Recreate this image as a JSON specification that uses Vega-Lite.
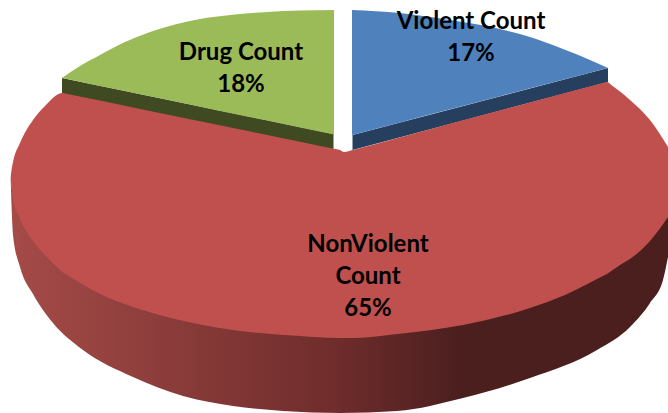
{"$schema":"https://vega.github.io/schema/vega-lite/v6.json","autosize":{"type":"fit","contains":"padding"},"padding":0,"width":668,"height":413,"background":"white","view":{"stroke":null},"config":{"axis":{"disable":true}},
"encoding":{"x":{"field":"x","type":"quantitative","scale":{"domain":[0,668],"nice":false,"zero":false},"axis":null},"y":{"field":"y","type":"quantitative","scale":{"domain":[413,0],"nice":false,"zero":false},"axis":null}},
"layer":[
{"data":{"values":[{"x":62,"y":78,"y2":94},{"x":333.5,"y":134,"y2":150}]},"mark":{"type":"area","fill":"#404a22"},"encoding":{"y2":{"field":"y2"}}},
{"data":{"values":[{"x":62,"y":78,"y2":78},{"x":80,"y":66,"y2":81.7},{"x":100,"y":55,"y2":86},{"x":125,"y":42,"y2":91},{"x":150,"y":32,"y2":96.3},{"x":175,"y":24.5,"y2":101.5},{"x":200,"y":19,"y2":106.7},{"x":235,"y":14.5,"y2":114},{"x":267,"y":12,"y2":120.6},{"x":300,"y":10.5,"y2":127.5},{"x":334,"y":10,"y2":134.5}]},"mark":{"type":"area","interpolate":"monotone","fill":"#9bbb59"},"encoding":{"y2":{"field":"y2"}}},
{"data":{"values":[{"x":352.5,"y":135,"y2":150},{"x":608,"y":68,"y2":82}]},"mark":{"type":"area","fill":"#263f5f"},"encoding":{"y2":{"field":"y2"}}},
{"data":{"values":[{"x":352,"y":10,"y2":135},{"x":400,"y":13,"y2":122.4},{"x":450,"y":20,"y2":109.3},{"x":500,"y":29,"y2":96.2},{"x":530,"y":37,"y2":88.3},{"x":563,"y":49,"y2":79.8},{"x":590,"y":60,"y2":72.7},{"x":608,"y":68,"y2":68}]},"mark":{"type":"area","interpolate":"monotone","fill":"#4f81bd"},"encoding":{"y2":{"field":"y2"}}},
{"data":{"values":[{"x":10.7,"y":177,"y2":180},{"x":11.5,"y":185,"y2":205},{"x":13,"y":193,"y2":235},{"x":20,"y":213,"y2":267},{"x":33,"y":235,"y2":294},{"x":53,"y":257,"y2":323},{"x":83,"y":279,"y2":350},{"x":133,"y":301,"y2":377},{"x":183,"y":315,"y2":396},{"x":233,"y":324,"y2":406},{"x":283,"y":329,"y2":411},{"x":340,"y":332,"y2":413},{"x":397,"y":328,"y2":411},{"x":463,"y":319,"y2":398},{"x":530,"y":302,"y2":378},{"x":597,"y":274,"y2":350},{"x":630,"y":254,"y2":327},{"x":650,"y":235,"y2":303},{"x":663,"y":219,"y2":280},{"x":668,"y":211,"y2":257}]},"mark":{"type":"area","interpolate":"monotone","fill":{"gradient":"linear","x1":0,"y1":0,"x2":1,"y2":0,"stops":[{"offset":0,"color":"#a54b48"},{"offset":0.5,"color":"#6e2c2b"},{"offset":0.68,"color":"#4c1f1f"},{"offset":1,"color":"#4a1f1e"}]}},"encoding":{"y2":{"field":"y2"}}},
{"data":{"values":[{"x":10.7,"y":177,"y2":177},{"x":11.5,"y":170,"y2":188},{"x":13,"y":162,"y2":199},{"x":20,"y":143,"y2":219},{"x":33,"y":120,"y2":241},{"x":45,"y":106,"y2":255},{"x":62.5,"y":93,"y2":272},{"x":63,"y":93.1,"y2":272.4},{"x":64,"y":93.3,"y2":273},{"x":100,"y":100.6,"y2":294},{"x":133,"y":107.4,"y2":307},{"x":167,"y":114.4,"y2":317},{"x":233,"y":128,"y2":330},{"x":300,"y":141.8,"y2":336},{"x":338,"y":149.6,"y2":338},{"x":340,"y":150,"y2":338},{"x":344,"y":152,"y2":338},{"x":353,"y":150,"y2":338},{"x":355,"y":149.5,"y2":338},{"x":397,"y":138.2,"y2":334},{"x":463,"y":120.3,"y2":325},{"x":530,"y":102.4,"y2":308},{"x":565,"y":93,"y2":295},{"x":605,"y":82.5,"y2":275},{"x":606.5,"y":82.1,"y2":274.3},{"x":607,"y":82,"y2":274},{"x":612,"y":85.5,"y2":270.5},{"x":620,"y":91.5,"y2":265},{"x":630,"y":100,"y2":259},{"x":650,"y":120,"y2":241},{"x":668,"y":147,"y2":217}]},"mark":{"type":"area","interpolate":"monotone","fill":"#c0504d"},"encoding":{"y2":{"field":"y2"}}},
{"data":{"values":[{"label":"Violent Count\n17%","x":471,"y":22},{"label":"Drug Count\n18%","x":241,"y":53},{"label":"NonViolent\nCount\n65%","x":368,"y":245}]},"mark":{"type":"text","font":"Lato","fontWeight":"bold","fontSize":24,"lineBreak":"\n","lineHeight":32,"align":"center","baseline":"middle","color":"#000000"},"encoding":{"text":{"field":"label"}}}
]}
